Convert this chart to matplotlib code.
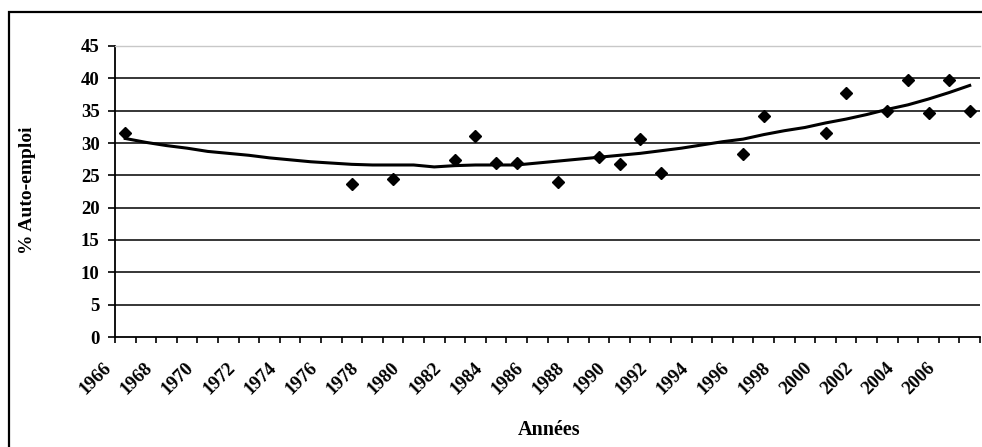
import numpy as np
import matplotlib
matplotlib.use("Agg")
import matplotlib.pyplot as plt
from matplotlib.patches import Rectangle

plt.rcParams['font.family'] = ['Liberation Serif', 'DejaVu Serif']
plt.rcParams['font.weight'] = 'bold'

# points observés (% auto-emploi)
annees = [1966, 1977, 1979, 1982, 1983, 1984, 1985, 1987, 1989, 1990, 1991,
          1992, 1996, 1997, 2000, 2001, 2003, 2004, 2005, 2006, 2007]
auto_emploi = [31.6, 23.7, 24.4, 27.3, 31.1, 26.9, 26.9, 23.9, 27.8, 26.7, 30.6,
               25.3, 28.3, 34.1, 31.6, 37.7, 34.9, 39.8, 34.6, 39.8, 34.9]

# courbe de tendance, une valeur par année 1966-2007
annees_tendance = list(range(1966, 2008))
tendance = [30.7, 30.1, 29.6, 29.2, 28.7, 28.4, 28.1, 27.7, 27.4, 27.1,
            26.9, 26.7, 26.6, 26.6, 26.6, 26.3, 26.5, 26.6, 26.6, 26.6,
            26.9, 27.2, 27.5, 27.8, 28.1, 28.4, 28.8, 29.2, 29.7, 30.2,
            30.6, 31.3, 31.9, 32.4, 33.1, 33.7, 34.4, 35.2, 35.9, 36.8,
            37.8, 38.9]

fig = plt.figure(figsize=(9.82, 4.47), dpi=100)
ax = fig.add_axes([115/982, 110/447, 865/982, 291/447])

# les points sont placés au milieu de l'année
x_pts = np.array(annees) + 0.5
x_tend = np.array(annees_tendance) + 0.5

ax.plot(x_tend, tendance, color='black', lw=2.2, zorder=3)
ax.plot(x_pts, auto_emploi, linestyle='none', marker='D', markersize=6,
        color='black', zorder=4)

ax.set_xlim(1966, 2008)
ax.set_ylim(0, 45)
ax.set_yticks(range(0, 46, 5))
ax.set_xticks(range(1966, 2007, 2))
ax.set_xticks(range(1966, 2009), minor=True)
ax.set_xticklabels([str(a) for a in range(1966, 2007, 2)], rotation=45,
                   ha='right', va='top')

for y in range(5, 45, 5):
    ax.axhline(y, color='black', lw=1.1, zorder=1)

ax.spines['right'].set_visible(False)
ax.spines['top'].set_color('#c8c8c8')
ax.spines['top'].set_linewidth(1.0)
ax.spines['left'].set_linewidth(1.3)
ax.spines['bottom'].set_linewidth(1.3)

ax.tick_params(axis='y', direction='out', length=5, width=1.2, pad=6,
               labelsize=13.5)
ax.tick_params(axis='x', which='both', direction='out', length=4.3, width=1.2)
ax.tick_params(axis='x', which='major', pad=12, labelsize=13.5)

fig.text(28/982, 1 - 190/447, '% Auto-emploi', rotation=90, ha='center',
         va='center', fontsize=14, fontweight='bold')
fig.text(549/982, 1 - 430/447, 'Années', ha='center', va='center',
         fontsize=14.5, fontweight='bold')

# cadre extérieur
fig.patches.append(Rectangle((8.5/982, -0.1), 1.2, (447 - 11.5)/447 + 0.1,
                             transform=fig.transFigure, fill=False,
                             edgecolor='black', lw=1.6))

fig.savefig('out.png', dpi=100)
